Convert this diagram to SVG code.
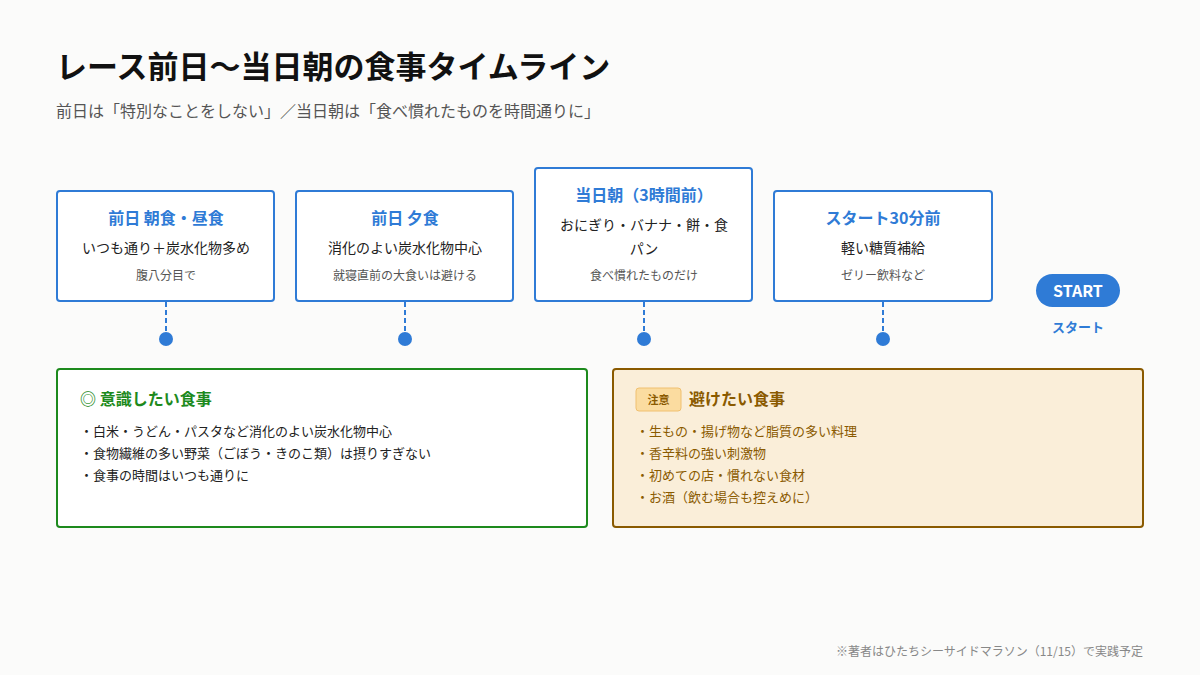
<svg xmlns="http://www.w3.org/2000/svg" width="1200" height="675" viewBox="0 0 1200 675">
<style>
text{font-family:"Noto Sans CJK JP","Noto Sans",sans-serif}
.card{fill:#fff;stroke:#2f7bd6;stroke-width:2}
.ct{font-size:16px;font-weight:700;fill:#2f7bd6;text-anchor:middle}
.cm{font-size:14px;fill:#222;text-anchor:middle}
.cs{font-size:12px;fill:#555;text-anchor:middle}
.dash{stroke:#2f7bd6;stroke-width:2;stroke-dasharray:5,3}
.dot{fill:#2f7bd6}
.gl{font-size:13px;fill:#222}
.ol{font-size:13px;fill:#8a5a00}
</style>
<rect width="1200" height="675" fill="#fbfbfa"/>
<text x="56" y="78" font-size="31" font-weight="700" fill="#111">レース前日〜当日朝の食事タイムライン</text>
<text x="56" y="117" font-size="16" fill="#555">前日は「特別なことをしない」／当日朝は「食べ慣れたものを時間通りに」</text>
<g id="connectors">
<line class="dash" x1="166" y1="302" x2="166" y2="337"/><circle class="dot" cx="166" cy="339" r="7"/>
<line class="dash" x1="405" y1="302" x2="405" y2="337"/><circle class="dot" cx="405" cy="339" r="7"/>
<line class="dash" x1="644" y1="302" x2="644" y2="337"/><circle class="dot" cx="644" cy="339" r="7"/>
<line class="dash" x1="883" y1="302" x2="883" y2="337"/><circle class="dot" cx="883" cy="339" r="7"/>
</g>
<g id="n1"><rect class="card" x="57" y="191" width="217" height="110" rx="3"/>
<text class="ct" x="166" y="224">前日 朝食・昼食</text><text class="cm" x="166" y="253">いつも通り＋炭水化物多め</text><text class="cs" x="166" y="280">腹八分目で</text></g>
<g id="n2"><rect class="card" x="296" y="191" width="217" height="110" rx="3"/>
<text class="ct" x="405" y="224">前日 夕食</text><text class="cm" x="405" y="253">消化のよい炭水化物中心</text><text class="cs" x="405" y="280">就寝直前の大食いは避ける</text></g>
<g id="n3"><rect class="card" x="535" y="168" width="217" height="133" rx="3"/>
<text class="ct" x="644" y="201">当日朝（3時間前）</text><text class="cm" x="644" y="230">おにぎり・バナナ・餅・食</text><text class="cm" x="644" y="254">パン</text><text class="cs" x="644" y="280">食べ慣れたものだけ</text></g>
<g id="n4"><rect class="card" x="774" y="191" width="218" height="110" rx="3"/>
<text class="ct" x="883" y="224">スタート30分前</text><text class="cm" x="883" y="253">軽い糖質補給</text><text class="cs" x="883" y="280">ゼリー飲料など</text></g>
<g id="start"><rect x="1036" y="274" width="84" height="33" rx="16.5" fill="#2f7bd6"/>
<text x="1078" y="297" font-size="16" font-weight="700" fill="#fff" text-anchor="middle" font-family="Liberation Sans,sans-serif">START</text>
<text x="1078" y="332" font-size="13" font-weight="700" fill="#2f7bd6" text-anchor="middle">スタート</text></g>
<g id="good"><rect x="57" y="369" width="530" height="158" rx="3" fill="#fff" stroke="#1d8a1d" stroke-width="2"/>
<text x="80" y="405" font-size="16" font-weight="700" fill="#1d8a1d">◎ 意識したい食事</text>
<text class="gl" x="80" y="436">・白米・うどん・パスタなど消化のよい炭水化物中心</text>
<text class="gl" x="80" y="458">・食物繊維の多い野菜（ごぼう・きのこ類）は摂りすぎない</text>
<text class="gl" x="80" y="480">・食事の時間はいつも通りに</text></g>
<g id="bad"><rect x="613" y="369" width="530" height="158" rx="3" fill="#faeed9" stroke="#8a5a00" stroke-width="2"/>
<rect x="636" y="388" width="45" height="23" rx="3" fill="#fbdca0" stroke="#f0c070"/>
<text x="658.5" y="404" font-size="11" font-weight="700" fill="#8a5a00" text-anchor="middle">注意</text>
<text x="689" y="405" font-size="16" font-weight="700" fill="#8a5a00">避けたい食事</text>
<text class="ol" x="636" y="436">・生もの・揚げ物など脂質の多い料理</text>
<text class="ol" x="636" y="458">・香辛料の強い刺激物</text>
<text class="ol" x="636" y="480">・初めての店・慣れない食材</text>
<text class="ol" x="636" y="502">・お酒（飲む場合も控えめに）</text></g>
<text x="1143" y="656" font-size="12" fill="#888" text-anchor="end">※著者はひたちシーサイドマラソン（11/15）で実践予定</text>
</svg>
